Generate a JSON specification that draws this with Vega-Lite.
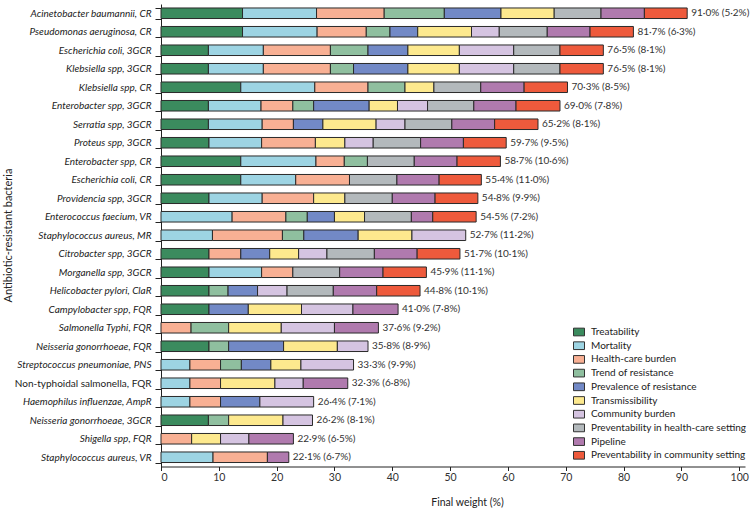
{
  "$schema": "https://vega.github.io/schema/vega-lite/v6.json",
  "width": 584,
  "height": 462.5,
  "autosize": {"type": "none"},
  "padding": {"left": 161, "top": 4, "right": 7, "bottom": 45.5},
  "config": {"view": {"stroke": null}, "font": "Lato", "background": "white"},
  "datasets": {
    "crit": [
      {"c":"Treatability","k":1},
      {"c":"Mortality","k":2},
      {"c":"Health-care burden","k":3},
      {"c":"Trend of resistance","k":4},
      {"c":"Prevalence of resistance","k":5},
      {"c":"Transmissibility","k":6},
      {"c":"Community burden","k":7},
      {"c":"Preventability in health-care setting","k":8},
      {"c":"Pipeline","k":9},
      {"c":"Preventability in community setting","k":10}
    ],
    "seg": [
      {"b":"Acinetobacter baumannii, CR","c":"Treatability","v":14.1},
      {"b":"Acinetobacter baumannii, CR","c":"Mortality","v":12.8},
      {"b":"Acinetobacter baumannii, CR","c":"Health-care burden","v":11.7},
      {"b":"Acinetobacter baumannii, CR","c":"Trend of resistance","v":10.4},
      {"b":"Acinetobacter baumannii, CR","c":"Prevalence of resistance","v":9.8},
      {"b":"Acinetobacter baumannii, CR","c":"Transmissibility","v":9.2},
      {"b":"Acinetobacter baumannii, CR","c":"Preventability in health-care setting","v":8.1},
      {"b":"Acinetobacter baumannii, CR","c":"Pipeline","v":7.5},
      {"b":"Acinetobacter baumannii, CR","c":"Preventability in community setting","v":7.4},

      {"b":"Pseudomonas aeruginosa, CR","c":"Treatability","v":14.1},
      {"b":"Pseudomonas aeruginosa, CR","c":"Mortality","v":12.9},
      {"b":"Pseudomonas aeruginosa, CR","c":"Health-care burden","v":8.5},
      {"b":"Pseudomonas aeruginosa, CR","c":"Trend of resistance","v":4.1},
      {"b":"Pseudomonas aeruginosa, CR","c":"Prevalence of resistance","v":4.8},
      {"b":"Pseudomonas aeruginosa, CR","c":"Transmissibility","v":9.3},
      {"b":"Pseudomonas aeruginosa, CR","c":"Community burden","v":4.8},
      {"b":"Pseudomonas aeruginosa, CR","c":"Preventability in health-care setting","v":8.3},
      {"b":"Pseudomonas aeruginosa, CR","c":"Pipeline","v":7.4},
      {"b":"Pseudomonas aeruginosa, CR","c":"Preventability in community setting","v":7.5},

      {"b":"Escherichia coli, 3GCR","c":"Treatability","v":8.2},
      {"b":"Escherichia coli, 3GCR","c":"Mortality","v":9.5},
      {"b":"Escherichia coli, 3GCR","c":"Health-care burden","v":11.6},
      {"b":"Escherichia coli, 3GCR","c":"Trend of resistance","v":6.5},
      {"b":"Escherichia coli, 3GCR","c":"Prevalence of resistance","v":6.9},
      {"b":"Escherichia coli, 3GCR","c":"Transmissibility","v":8.9},
      {"b":"Escherichia coli, 3GCR","c":"Community burden","v":9.4},
      {"b":"Escherichia coli, 3GCR","c":"Preventability in health-care setting","v":8.0},
      {"b":"Escherichia coli, 3GCR","c":"Preventability in community setting","v":7.5},

      {"b":"Klebsiella spp, 3GCR","c":"Treatability","v":8.2},
      {"b":"Klebsiella spp, 3GCR","c":"Mortality","v":9.5},
      {"b":"Klebsiella spp, 3GCR","c":"Health-care burden","v":11.6},
      {"b":"Klebsiella spp, 3GCR","c":"Trend of resistance","v":4.0},
      {"b":"Klebsiella spp, 3GCR","c":"Prevalence of resistance","v":9.4},
      {"b":"Klebsiella spp, 3GCR","c":"Transmissibility","v":8.9},
      {"b":"Klebsiella spp, 3GCR","c":"Community burden","v":9.4},
      {"b":"Klebsiella spp, 3GCR","c":"Preventability in health-care setting","v":8.0},
      {"b":"Klebsiella spp, 3GCR","c":"Preventability in community setting","v":7.5},

      {"b":"Klebsiella spp, CR","c":"Treatability","v":13.8},
      {"b":"Klebsiella spp, CR","c":"Mortality","v":12.8},
      {"b":"Klebsiella spp, CR","c":"Health-care burden","v":9.2},
      {"b":"Klebsiella spp, CR","c":"Trend of resistance","v":6.4},
      {"b":"Klebsiella spp, CR","c":"Transmissibility","v":5.0},
      {"b":"Klebsiella spp, CR","c":"Preventability in health-care setting","v":8.1},
      {"b":"Klebsiella spp, CR","c":"Pipeline","v":7.5},
      {"b":"Klebsiella spp, CR","c":"Preventability in community setting","v":7.5},

      {"b":"Enterobacter spp, 3GCR","c":"Treatability","v":8.2},
      {"b":"Enterobacter spp, 3GCR","c":"Mortality","v":9.1},
      {"b":"Enterobacter spp, 3GCR","c":"Health-care burden","v":5.5},
      {"b":"Enterobacter spp, 3GCR","c":"Trend of resistance","v":3.6},
      {"b":"Enterobacter spp, 3GCR","c":"Prevalence of resistance","v":9.6},
      {"b":"Enterobacter spp, 3GCR","c":"Transmissibility","v":4.9},
      {"b":"Enterobacter spp, 3GCR","c":"Community burden","v":5.2},
      {"b":"Enterobacter spp, 3GCR","c":"Preventability in health-care setting","v":8.0},
      {"b":"Enterobacter spp, 3GCR","c":"Pipeline","v":7.3},
      {"b":"Enterobacter spp, 3GCR","c":"Preventability in community setting","v":7.6},

      {"b":"Serratia spp, 3GCR","c":"Treatability","v":8.2},
      {"b":"Serratia spp, 3GCR","c":"Mortality","v":9.3},
      {"b":"Serratia spp, 3GCR","c":"Health-care burden","v":5.4},
      {"b":"Serratia spp, 3GCR","c":"Prevalence of resistance","v":5.1},
      {"b":"Serratia spp, 3GCR","c":"Transmissibility","v":9.2},
      {"b":"Serratia spp, 3GCR","c":"Community burden","v":5.0},
      {"b":"Serratia spp, 3GCR","c":"Preventability in health-care setting","v":8.1},
      {"b":"Serratia spp, 3GCR","c":"Pipeline","v":7.4},
      {"b":"Serratia spp, 3GCR","c":"Preventability in community setting","v":7.5},

      {"b":"Proteus spp, 3GCR","c":"Treatability","v":8.3},
      {"b":"Proteus spp, 3GCR","c":"Mortality","v":9.1},
      {"b":"Proteus spp, 3GCR","c":"Health-care burden","v":9.3},
      {"b":"Proteus spp, 3GCR","c":"Transmissibility","v":5.1},
      {"b":"Proteus spp, 3GCR","c":"Community burden","v":4.9},
      {"b":"Proteus spp, 3GCR","c":"Preventability in health-care setting","v":8.2},
      {"b":"Proteus spp, 3GCR","c":"Pipeline","v":7.4},
      {"b":"Proteus spp, 3GCR","c":"Preventability in community setting","v":7.4},

      {"b":"Enterobacter spp, CR","c":"Treatability","v":13.8},
      {"b":"Enterobacter spp, CR","c":"Mortality","v":13.0},
      {"b":"Enterobacter spp, CR","c":"Health-care burden","v":4.9},
      {"b":"Enterobacter spp, CR","c":"Trend of resistance","v":4.0},
      {"b":"Enterobacter spp, CR","c":"Preventability in health-care setting","v":8.1},
      {"b":"Enterobacter spp, CR","c":"Pipeline","v":7.4},
      {"b":"Enterobacter spp, CR","c":"Preventability in community setting","v":7.5},

      {"b":"Escherichia coli, CR","c":"Treatability","v":13.8},
      {"b":"Escherichia coli, CR","c":"Mortality","v":9.5},
      {"b":"Escherichia coli, CR","c":"Health-care burden","v":9.3},
      {"b":"Escherichia coli, CR","c":"Preventability in health-care setting","v":8.2},
      {"b":"Escherichia coli, CR","c":"Pipeline","v":7.3},
      {"b":"Escherichia coli, CR","c":"Preventability in community setting","v":7.3},

      {"b":"Providencia spp, 3GCR","c":"Treatability","v":8.3},
      {"b":"Providencia spp, 3GCR","c":"Mortality","v":9.2},
      {"b":"Providencia spp, 3GCR","c":"Health-care burden","v":8.9},
      {"b":"Providencia spp, 3GCR","c":"Transmissibility","v":5.4},
      {"b":"Providencia spp, 3GCR","c":"Preventability in health-care setting","v":8.2},
      {"b":"Providencia spp, 3GCR","c":"Pipeline","v":7.4},
      {"b":"Providencia spp, 3GCR","c":"Preventability in community setting","v":7.4},

      {"b":"Enterococcus faecium, VR","c":"Mortality","v":12.3},
      {"b":"Enterococcus faecium, VR","c":"Health-care burden","v":9.3},
      {"b":"Enterococcus faecium, VR","c":"Trend of resistance","v":3.7},
      {"b":"Enterococcus faecium, VR","c":"Prevalence of resistance","v":4.7},
      {"b":"Enterococcus faecium, VR","c":"Transmissibility","v":5.2},
      {"b":"Enterococcus faecium, VR","c":"Preventability in health-care setting","v":8.1},
      {"b":"Enterococcus faecium, VR","c":"Pipeline","v":3.7},
      {"b":"Enterococcus faecium, VR","c":"Preventability in community setting","v":7.5},

      {"b":"Staphylococcus aureus, MR","c":"Mortality","v":8.9},
      {"b":"Staphylococcus aureus, MR","c":"Health-care burden","v":12.1},
      {"b":"Staphylococcus aureus, MR","c":"Trend of resistance","v":3.7},
      {"b":"Staphylococcus aureus, MR","c":"Prevalence of resistance","v":9.4},
      {"b":"Staphylococcus aureus, MR","c":"Transmissibility","v":9.3},
      {"b":"Staphylococcus aureus, MR","c":"Community burden","v":9.3},

      {"b":"Citrobacter spp, 3GCR","c":"Treatability","v":8.3},
      {"b":"Citrobacter spp, 3GCR","c":"Health-care burden","v":5.5},
      {"b":"Citrobacter spp, 3GCR","c":"Prevalence of resistance","v":5.0},
      {"b":"Citrobacter spp, 3GCR","c":"Transmissibility","v":5.0},
      {"b":"Citrobacter spp, 3GCR","c":"Community burden","v":4.9},
      {"b":"Citrobacter spp, 3GCR","c":"Preventability in health-care setting","v":8.2},
      {"b":"Citrobacter spp, 3GCR","c":"Pipeline","v":7.4},
      {"b":"Citrobacter spp, 3GCR","c":"Preventability in community setting","v":7.4},

      {"b":"Morganella spp, 3GCR","c":"Treatability","v":8.3},
      {"b":"Morganella spp, 3GCR","c":"Mortality","v":9.1},
      {"b":"Morganella spp, 3GCR","c":"Health-care burden","v":5.4},
      {"b":"Morganella spp, 3GCR","c":"Preventability in health-care setting","v":8.1},
      {"b":"Morganella spp, 3GCR","c":"Pipeline","v":7.5},
      {"b":"Morganella spp, 3GCR","c":"Preventability in community setting","v":7.5},

      {"b":"Helicobacter pylori, ClaR","c":"Treatability","v":8.3},
      {"b":"Helicobacter pylori, ClaR","c":"Trend of resistance","v":3.3},
      {"b":"Helicobacter pylori, ClaR","c":"Prevalence of resistance","v":5.1},
      {"b":"Helicobacter pylori, ClaR","c":"Community burden","v":5.1},
      {"b":"Helicobacter pylori, ClaR","c":"Preventability in health-care setting","v":8.0},
      {"b":"Helicobacter pylori, ClaR","c":"Pipeline","v":7.5},
      {"b":"Helicobacter pylori, ClaR","c":"Preventability in community setting","v":7.5},

      {"b":"Campylobacter spp, FQR","c":"Treatability","v":8.3},
      {"b":"Campylobacter spp, FQR","c":"Prevalence of resistance","v":6.8},
      {"b":"Campylobacter spp, FQR","c":"Transmissibility","v":9.2},
      {"b":"Campylobacter spp, FQR","c":"Community burden","v":8.9},
      {"b":"Campylobacter spp, FQR","c":"Pipeline","v":7.8},

      {"b":"Salmonella Typhi, FQR","c":"Health-care burden","v":5.2},
      {"b":"Salmonella Typhi, FQR","c":"Trend of resistance","v":6.5},
      {"b":"Salmonella Typhi, FQR","c":"Transmissibility","v":9.1},
      {"b":"Salmonella Typhi, FQR","c":"Community burden","v":9.2},
      {"b":"Salmonella Typhi, FQR","c":"Pipeline","v":7.6},

      {"b":"Neisseria gonorrhoeae, FQR","c":"Treatability","v":8.3},
      {"b":"Neisseria gonorrhoeae, FQR","c":"Trend of resistance","v":3.4},
      {"b":"Neisseria gonorrhoeae, FQR","c":"Prevalence of resistance","v":9.5},
      {"b":"Neisseria gonorrhoeae, FQR","c":"Transmissibility","v":9.3},
      {"b":"Neisseria gonorrhoeae, FQR","c":"Community burden","v":5.3},

      {"b":"Streptococcus pneumoniae, PNS","c":"Mortality","v":5.0},
      {"b":"Streptococcus pneumoniae, PNS","c":"Health-care burden","v":5.3},
      {"b":"Streptococcus pneumoniae, PNS","c":"Trend of resistance","v":3.6},
      {"b":"Streptococcus pneumoniae, PNS","c":"Prevalence of resistance","v":5.1},
      {"b":"Streptococcus pneumoniae, PNS","c":"Transmissibility","v":5.2},
      {"b":"Streptococcus pneumoniae, PNS","c":"Community burden","v":9.1},

      {"b":"Non-typhoidal salmonella, FQR","c":"Mortality","v":5.0},
      {"b":"Non-typhoidal salmonella, FQR","c":"Health-care burden","v":5.3},
      {"b":"Non-typhoidal salmonella, FQR","c":"Transmissibility","v":9.4},
      {"b":"Non-typhoidal salmonella, FQR","c":"Community burden","v":4.9},
      {"b":"Non-typhoidal salmonella, FQR","c":"Pipeline","v":7.7},

      {"b":"Haemophilus influenzae, AmpR","c":"Mortality","v":5.0},
      {"b":"Haemophilus influenzae, AmpR","c":"Health-care burden","v":5.3},
      {"b":"Haemophilus influenzae, AmpR","c":"Prevalence of resistance","v":6.8},
      {"b":"Haemophilus influenzae, AmpR","c":"Community burden","v":9.3},

      {"b":"Neisseria gonorrhoeae, 3GCR","c":"Treatability","v":8.2},
      {"b":"Neisseria gonorrhoeae, 3GCR","c":"Trend of resistance","v":3.5},
      {"b":"Neisseria gonorrhoeae, 3GCR","c":"Transmissibility","v":9.4},
      {"b":"Neisseria gonorrhoeae, 3GCR","c":"Community burden","v":5.1},

      {"b":"Shigella spp, FQR","c":"Health-care burden","v":5.3},
      {"b":"Shigella spp, FQR","c":"Transmissibility","v":5.0},
      {"b":"Shigella spp, FQR","c":"Community burden","v":4.9},
      {"b":"Shigella spp, FQR","c":"Pipeline","v":7.7},

      {"b":"Staphylococcus aureus, VR","c":"Mortality","v":9.0},
      {"b":"Staphylococcus aureus, VR","c":"Health-care burden","v":9.4},
      {"b":"Staphylococcus aureus, VR","c":"Pipeline","v":3.7}
    ],
    "tot": [
      {"b":"Acinetobacter baumannii, CR","t":91.0,"lab":"91·0% (5·2%)"},
      {"b":"Pseudomonas aeruginosa, CR","t":81.7,"lab":"81·7% (6·3%)"},
      {"b":"Escherichia coli, 3GCR","t":76.5,"lab":"76·5% (8·1%)"},
      {"b":"Klebsiella spp, 3GCR","t":76.5,"lab":"76·5% (8·1%)"},
      {"b":"Klebsiella spp, CR","t":70.3,"lab":"70·3% (8·5%)"},
      {"b":"Enterobacter spp, 3GCR","t":69.0,"lab":"69·0% (7·8%)"},
      {"b":"Serratia spp, 3GCR","t":65.2,"lab":"65·2% (8·1%)"},
      {"b":"Proteus spp, 3GCR","t":59.7,"lab":"59·7% (9·5%)"},
      {"b":"Enterobacter spp, CR","t":58.7,"lab":"58·7% (10·6%)"},
      {"b":"Escherichia coli, CR","t":55.4,"lab":"55·4% (11·0%)"},
      {"b":"Providencia spp, 3GCR","t":54.8,"lab":"54·8% (9·9%)"},
      {"b":"Enterococcus faecium, VR","t":54.5,"lab":"54·5% (7·2%)"},
      {"b":"Staphylococcus aureus, MR","t":52.7,"lab":"52·7% (11·2%)"},
      {"b":"Citrobacter spp, 3GCR","t":51.7,"lab":"51·7% (10·1%)"},
      {"b":"Morganella spp, 3GCR","t":45.9,"lab":"45·9% (11·1%)"},
      {"b":"Helicobacter pylori, ClaR","t":44.8,"lab":"44·8% (10·1%)"},
      {"b":"Campylobacter spp, FQR","t":41.0,"lab":"41·0% (7·8%)"},
      {"b":"Salmonella Typhi, FQR","t":37.6,"lab":"37·6% (9·2%)"},
      {"b":"Neisseria gonorrhoeae, FQR","t":35.8,"lab":"35·8% (8·9%)"},
      {"b":"Streptococcus pneumoniae, PNS","t":33.3,"lab":"33·3% (9·9%)"},
      {"b":"Non-typhoidal salmonella, FQR","t":32.3,"lab":"32·3% (6·8%)"},
      {"b":"Haemophilus influenzae, AmpR","t":26.4,"lab":"26·4% (7·1%)"},
      {"b":"Neisseria gonorrhoeae, 3GCR","t":26.2,"lab":"26·2% (8·1%)"},
      {"b":"Shigella spp, FQR","t":22.9,"lab":"22·9% (6·5%)"},
      {"b":"Staphylococcus aureus, VR","t":22.1,"lab":"22·1% (6·7%)"}
    ]
  },
  "layer": [
    {
      "data": {"name": "seg"},
      "transform": [
        {"lookup": "c", "from": {"data": {"name": "crit"}, "key": "c", "fields": ["k"]}}
      ],
      "mark": {"type": "bar", "stroke": "#2a2a2a", "strokeWidth": 1},
      "encoding": {
        "y": {
          "field": "b", "type": "nominal",
          "sort": ["Acinetobacter baumannii, CR","Pseudomonas aeruginosa, CR","Escherichia coli, 3GCR","Klebsiella spp, 3GCR","Klebsiella spp, CR","Enterobacter spp, 3GCR","Serratia spp, 3GCR","Proteus spp, 3GCR","Enterobacter spp, CR","Escherichia coli, CR","Providencia spp, 3GCR","Enterococcus faecium, VR","Staphylococcus aureus, MR","Citrobacter spp, 3GCR","Morganella spp, 3GCR","Helicobacter pylori, ClaR","Campylobacter spp, FQR","Salmonella Typhi, FQR","Neisseria gonorrhoeae, FQR","Streptococcus pneumoniae, PNS","Non-typhoidal salmonella, FQR","Haemophilus influenzae, AmpR","Neisseria gonorrhoeae, 3GCR","Shigella spp, FQR","Staphylococcus aureus, VR"],
          "scale": {"paddingInner": 0.43},
          "axis": {
            "title": "Antibiotic-resistant bacteria",
            "titleFontSize": 11, "titleFontWeight": "normal", "titleColor": "#222",
            "titleX": -153, "titleY": 231, "titleBaseline": "middle", "titleAlign": "center", "titleAngle": -90,
            "tickBand": "extent", "tickSize": 6, "tickColor": "#222", "domainColor": "#222",
            "labelPadding": 4, "labelFontSize": 10, "labelColor": "#222",
            "labelFontStyle": {"condition": {"test": "datum.value === 'Non-typhoidal salmonella, FQR'", "value": "normal"}, "value": "italic"}
          }
        },
        "x": {
          "field": "v", "type": "quantitative", "stack": "zero",
          "scale": {"domain": [0, 101], "nice": false},
          "axis": {
            "values": [0,10,20,30,40,50,60,70,80,90,100],
            "grid": false, "tickSize": 4, "tickColor": "#222", "domainColor": "#222",
            "labelFontSize": 10.5, "labelColor": "#333", "labelPadding": 2,
            "title": "Final weight (%)", "titleFontSize": 10.5, "titleFontWeight": "normal", "titleColor": "#222",
            "titleX": 306, "titleY": 36, "titleBaseline": "middle"
          }
        },
        "order": {"field": "k", "type": "quantitative", "sort": "ascending"},
        "color": {
          "field": "c", "type": "nominal",
          "sort": ["Treatability","Mortality","Health-care burden","Trend of resistance","Prevalence of resistance","Transmissibility","Community burden","Preventability in health-care setting","Pipeline","Preventability in community setting"],
          "scale": {
            "domain": ["Treatability","Mortality","Health-care burden","Trend of resistance","Prevalence of resistance","Transmissibility","Community burden","Preventability in health-care setting","Pipeline","Preventability in community setting"],
            "range": ["#3b8b5e","#9dd4e3","#f8b094","#8fbf9f","#7289c6","#fde98e","#d5c4e1","#b3b9bc","#b07aae","#ee5a3c"]
          },
          "legend": {
            "orient": "none", "legendX": 412, "legendY": 322, "title": null,
            "symbolType": "M-1,-0.7H1V0.7H-1Z", "symbolSize": 121,
            "symbolStrokeColor": "#333", "symbolStrokeWidth": 1,
            "labelFontSize": 10, "labelColor": "#222", "rowPadding": 1.7, "labelOffset": 6
          }
        }
      }
    },
    {
      "data": {"name": "tot"},
      "mark": {"type": "text", "align": "left", "baseline": "middle", "dx": 4, "fontSize": 10, "color": "#333"},
      "encoding": {
        "y": {"field": "b", "type": "nominal",
          "sort": ["Acinetobacter baumannii, CR","Pseudomonas aeruginosa, CR","Escherichia coli, 3GCR","Klebsiella spp, 3GCR","Klebsiella spp, CR","Enterobacter spp, 3GCR","Serratia spp, 3GCR","Proteus spp, 3GCR","Enterobacter spp, CR","Escherichia coli, CR","Providencia spp, 3GCR","Enterococcus faecium, VR","Staphylococcus aureus, MR","Citrobacter spp, 3GCR","Morganella spp, 3GCR","Helicobacter pylori, ClaR","Campylobacter spp, FQR","Salmonella Typhi, FQR","Neisseria gonorrhoeae, FQR","Streptococcus pneumoniae, PNS","Non-typhoidal salmonella, FQR","Haemophilus influenzae, AmpR","Neisseria gonorrhoeae, 3GCR","Shigella spp, FQR","Staphylococcus aureus, VR"]},
        "x": {"field": "t", "type": "quantitative"},
        "text": {"field": "lab"}
      }
    }
  ]
}
